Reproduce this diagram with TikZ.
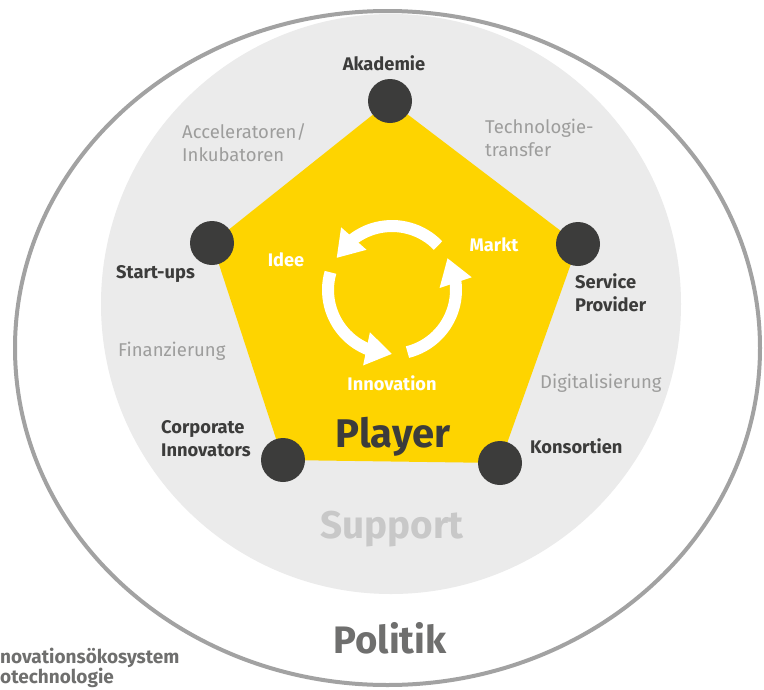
\documentclass[tikz,border=0pt]{standalone}
\usepackage{fontspec}
\setmainfont{Fira Sans}
\usetikzlibrary{arrows.meta,bending}

\definecolor{ringgray}{HTML}{A2A2A2}
\definecolor{supportfill}{HTML}{EBEBEB}
\definecolor{playeryellow}{HTML}{FED400}
\definecolor{darkdot}{HTML}{3C3C3B}
\definecolor{labelgray}{HTML}{9D9D9C}
\definecolor{supportgray}{HTML}{C8C8C8}
\definecolor{politikgray}{HTML}{6F6F6E}

\tikzset{
  playerdot/.style={circle, fill=darkdot, minimum size=44pt, inner sep=0pt},
  actor/.style={font=\fontsize{18.3}{23}\selectfont\bfseries, text=darkdot, inner sep=0pt, align=left},
  field/.style={font=\fontsize{18.5}{23}\selectfont, text=labelgray, inner sep=0pt, align=left},
  phase/.style={font=\fontsize{18.2}{20}\selectfont\bfseries, text=white, inner sep=0pt},
  cyclearrow/.style={white, line width=12pt, -{Triangle[width=32pt,length=26pt]}},
  title/.style={inner sep=0pt}
}

\begin{document}
\begin{tikzpicture}[x=1pt,y=-1pt]
  \useasboundingbox (0,0) rectangle (764,689);

  % outer ring (Politik) and support disc
  \draw[ringgray, line width=4pt, fill=white] (387.5,348) ellipse [x radius=372.5, y radius=337];
  \fill[supportfill] (391,304) circle [radius=290];

  % player pentagon
  \coordinate (pA) at (390,101);
  \coordinate (pB) at (578,244);
  \coordinate (pC) at (500,463);
  \coordinate (pD) at (283,460);
  \coordinate (pE) at (212,243);
  \fill[playeryellow] (pA) -- (pB) -- (pC) -- (pD) -- (pE) -- cycle;

  \node[playerdot] (akademie) at (pA) {};
  \node[playerdot] (service) at (pB) {};
  \node[playerdot] (konsortien) at (pC) {};
  \node[playerdot] (corporate) at (pD) {};
  \node[playerdot] (startups) at (pE) {};

  % actor labels (multi-line nodes are placed by their last baseline)
  \node[actor, anchor=base] (lakademie) at (384,70) {Akademie};
  \node[actor, anchor=base west] (lstartups) at (116,278) {Start-ups};
  \node[actor, anchor=base west] (lservice) at (575,311.5) {Service\\Provider};
  \node[actor, anchor=base west] (lcorporate) at (161,456.5) {Corporate\\Innovators};
  \node[actor, anchor=base west] (lkonsortien) at (530,453.5) {Konsortien};

  % support fields
  \node[field, anchor=base west] (lacc) at (182,161) {Acceleratoren/\\Inkubatoren};
  \node[field, anchor=base west] (ltech) at (485,156.5) {Technologie-\\transfer};
  \node[field, anchor=base west] (lfin) at (118,356.5) {Finanzierung};
  \node[field, anchor=base west] (ldig) at (540,388.5) {Digitalisierung};

  % innovation cycle
  \coordinate (cyc) at (392,290);
  \draw[cyclearrow] (cyc) ++(-44:64) arc[start angle=-44, end angle=-150, radius=64];
  \draw[cyclearrow] (cyc) ++(196:64) arc[start angle=196, end angle=90, radius=64];
  \draw[cyclearrow] (cyc) ++(76:64) arc[start angle=76, end angle=-30, radius=64];

  \node[phase, anchor=base] (idee) at (286,266.5) {Idee};
  \node[phase, anchor=base] (markt) at (494,251.5) {Markt};
  \node[phase, anchor=base] (innovation) at (392,390.5) {Innovation};

  % level titles
  \node[title, font=\fontsize{40}{44}\selectfont\bfseries, text=darkdot, anchor=base] (player) at (393,447) {Player};
  \node[title, font=\fontsize{38.6}{44}\selectfont\bfseries, text=supportgray, anchor=base] (support) at (392,538) {Support};
  \node[title, font=\fontsize{38.3}{44}\selectfont\bfseries, text=politikgray, anchor=base] (politik) at (390,653) {Politik};

  % caption
  \node[font=\fontsize{19}{20}\selectfont\bfseries, text=politikgray, inner sep=0pt, anchor=base west, align=left] (caption) at (0,683) {novationsökosystem\\otechnologie};
\end{tikzpicture}
\end{document}
